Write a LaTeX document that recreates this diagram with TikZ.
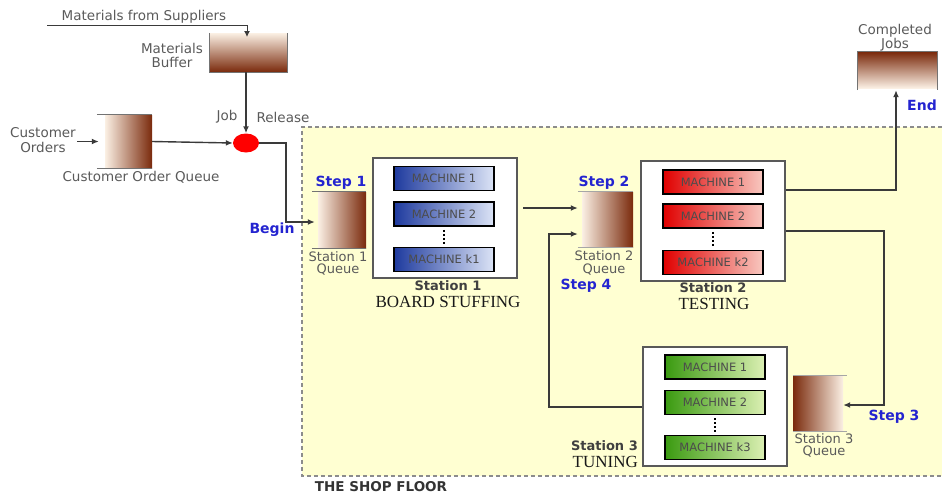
\documentclass[tikz,border=0pt]{standalone}
\usepackage{fontspec}
\setmainfont{DejaVu Sans}
\newfontfamily\serifont{Liberation Serif}
\usetikzlibrary{arrows.meta,shapes.geometric}
\definecolor{floorc}{HTML}{FFFFD2}
\definecolor{lbl}{HTML}{5A5A5A}
\definecolor{stepblue}{HTML}{2424D0}
\definecolor{brownD}{HTML}{7A2A0C}
\definecolor{brownL}{HTML}{FBF0E4}
\definecolor{wire}{HTML}{3A3A3A}
\definecolor{blueD}{HTML}{1E3A9E}
\definecolor{blueL}{HTML}{DCE4F6}
\definecolor{redD}{HTML}{E00000}
\definecolor{redL}{HTML}{F8C8C0}
\definecolor{greenD}{HTML}{3A9A10}
\definecolor{greenL}{HTML}{DCF0B4}
\tikzset{
  lab/.style={text=lbl, font=\fontsize{13.5}{14}\selectfont, inner sep=0pt, align=center},
  steplab/.style={text=stepblue, font=\fontsize{14}{16}\selectfont\bfseries, inner sep=0pt},
  stname/.style={text=black!75, font=\fontsize{13}{15}\selectfont\bfseries, inner sep=0pt},
  stdesc/.style={text=black!90, font=\serifont\fontsize{17}{19}\selectfont, inner sep=0pt},
  stbox/.style={draw=black!65, line width=1.6pt, fill=white, minimum width=144pt, minimum height=120pt, inner sep=0pt},
  mach/.style={draw=black, line width=1.8pt, minimum width=100pt, minimum height=24pt, inner sep=0pt,
    text=black!70, font=\fontsize{11.5}{13}\selectfont},
  bluem/.style={mach, left color=blueD, right color=blueL},
  redm/.style={mach, left color=redD, right color=redL},
  greenm/.style={mach, left color=greenD, right color=greenL},
  queue/.style={inner sep=0pt, left color=brownL, right color=brownD},
  rqueue/.style={inner sep=0pt, left color=brownD, right color=brownL},
  edgeline/.style={draw=black!55, line width=1.2pt},
  wire/.style={draw=wire, line width=1.4pt},
  arr/.style={wire, -{Latex[length=7pt,width=6pt]}},
  dots/.style={draw=black, line width=2pt, dash pattern=on 2pt off 2pt},
  qlab/.style={lab, font=\fontsize{13}{12.5}\selectfont},
}
\begin{document}
\begin{tikzpicture}[x=1pt,y=-1pt]
\useasboundingbox (0,0) rectangle (942,496);
% shop floor
\fill[floorc] (302,127) rectangle (942,476);
\draw[black!45, line width=1.2pt, dash pattern=on 4pt off 3pt] (942,127) -- (302,127) -- (302,476) -- (942,476);
\node[text=black!80, font=\fontsize{13.5}{15}\selectfont\bfseries, inner sep=0pt] (floorlbl) at (381,487) {THE SHOP FLOOR};

% materials buffer
\node[inner sep=0pt, minimum width=77pt, minimum height=39pt, top color=brownL, bottom color=brownD] (mb) at (248.5,52.5) {};
\draw[edgeline] (mb.north west) -- (mb.south west) -- (mb.south east) -- (mb.north east);
\node[lab] (mblbl) at (172,55) {Materials\\Buffer};
\node[lab] (suplbl) at (144,17) {Materials from Suppliers};
\coordinate (s0) at (47,25);
\coordinate (s1) at (247,25);
\coordinate (s2) at (247,37);
\draw[wire, line width=1pt, -{Latex[length=6pt,width=6pt]}] (s0) -- (s1) -- (s2);

% job release
\node[ellipse, fill=red, minimum width=26pt, minimum height=19pt, inner sep=0pt] (jr) at (246,143) {};
\draw[arr] (mb.south -| jr.north) -- (jr.north);
\node[lab] (joblbl) at (227,117) {Job};
\node[lab] (rellbl) at (283,117) {Release};

% customer orders
\node[queue, minimum width=47pt, minimum height=53pt] (cq) at (128.5,141.5) {};
\draw[edgeline] ([xshift=-8pt]cq.north west) -- (cq.north east);
\draw[edgeline] ([xshift=-8pt]cq.south west) -- (cq.south east);
\node[lab, align=center, font=\fontsize{13.5}{15}\selectfont] (colbl) at (43,140.5) {Customer\\Orders};
\coordinate (co) at (77,141.5);
\draw[arr] (co) -- ([xshift=-6pt]cq.west);
\node[lab] (cqlbl) at (141,177) {Customer Order Queue};
\draw[arr] (cq.east) -- (jr.west);

% station 1 queue
\node[queue, minimum width=48pt, minimum height=56pt] (q1) at (342,220) {};
\draw[edgeline] ([xshift=-6pt]q1.north west) -- (q1.north east);
\draw[edgeline] ([xshift=-6pt]q1.south west) -- (q1.south east);
\node[steplab] (step1) at (341,183) {Step 1};
\node[qlab] (q1lbl) at (338,263.5) {Station 1\\Queue};
\coordinate (b1) at (286,143);
\coordinate (b2) at (286,222);
\draw[arr] (jr.east) -- (b1) -- (b2) -- ([xshift=-3pt]q1.west |- b2);
\node[steplab] (begin) at (272,230) {Begin};

% station 1
\node[stbox] (st1) at (445,218) {};
\node[bluem] (m11) at (444,178.5) {MACHINE 1};
\node[bluem] (m12) at (444,214) {MACHINE 2};
\node[bluem] (m1k) at (444,259.5) {MACHINE k1};
\draw[dots] ([yshift=-3pt]m12.south) -- ([yshift=3pt]m1k.north);
\node[stname] (st1n) at (448,286) {Station 1};
\node[stdesc] (st1d) at (448,302) {BOARD STUFFING};

% station 2 queue
\node[queue, minimum width=51pt, minimum height=55pt] (q2) at (607.5,219.5) {};
\draw[edgeline, black!35] ([xshift=-4pt]q2.north west) -- (q2.north east);
\draw[edgeline, black!35] ([xshift=-4pt]q2.south west) -- (q2.south east);
\node[steplab] (step2) at (604,183) {Step 2};
\node[qlab] (q2lbl) at (604,263) {Station 2\\Queue};
\node[steplab] (step4) at (586,285.5) {Step 4};
\coordinate (a1) at (523,208);
\draw[arr] (a1) -- ([xshift=-4pt]q2.west |- a1);

% station 2
\node[stbox] (st2) at (713,221) {};
\node[redm] (m21) at (713,182) {MACHINE 1};
\node[redm] (m22) at (713,216) {MACHINE 2};
\node[redm] (m2k) at (713,262.5) {MACHINE k2};
\draw[dots] ([yshift=-3pt]m22.south) -- ([yshift=3pt]m2k.north);
\node[stname] (st2n) at (713,288) {Station 2};
\node[stdesc] (st2d) at (714,304) {TESTING};

% completed jobs
\node[inner sep=0pt, minimum width=79pt, minimum height=36pt, top color=brownD, bottom color=brownL] (cj) at (897.5,70) {};
\draw[edgeline] ([yshift=-2pt]cj.south west) -- (cj.north west) -- (cj.north east) -- ([yshift=-2pt]cj.south east);
\node[lab] (cjlbl) at (895,37.5) {Completed\\Jobs};
\coordinate (u1) at (896,190);
\draw[arr] (st2.east |- u1) -- (u1) -- ([yshift=-2pt]cj.south -| u1);
\node[steplab] (endl) at (922,105) {End};

% station 3 queue
\node[rqueue, minimum width=50pt, minimum height=55pt] (q3) at (818,403.5) {};
\draw[edgeline, black!35] (q3.north west) -- ([xshift=4pt]q3.north east);
\draw[edgeline, black!35] (q3.south west) -- ([xshift=4pt]q3.south east);
\node[qlab] (q3lbl) at (824,445.5) {Station 3\\Queue};
\node[steplab] (step3) at (894,417) {Step 3};
\coordinate (d1) at (884,231);
\coordinate (d2) at (884,405);
\draw[arr] (st2.east |- d1) -- (d1) -- (d2) -- (q3.east |- d2);

% station 3
\node[stbox, minimum height=119pt] (st3) at (715,406.5) {};
\node[greenm] (m31) at (715,367) {MACHINE 1};
\node[greenm] (m32) at (715,402.5) {MACHINE 2};
\node[greenm] (m3k) at (715,447.5) {MACHINE k3};
\draw[dots] ([yshift=-3pt]m32.south) -- ([yshift=3pt]m3k.north);
\node[stname, anchor=east] (st3n) at (638,446) {Station 3};
\node[stdesc, anchor=east] (st3d) at (638,462) {TUNING};
\coordinate (l1) at (549,407);
\coordinate (l2) at (549,234);
\draw[arr] (st3.west |- l1) -- (l1) -- (l2) -- ([xshift=-4pt]q2.west |- l2);
\end{tikzpicture}
\end{document}
